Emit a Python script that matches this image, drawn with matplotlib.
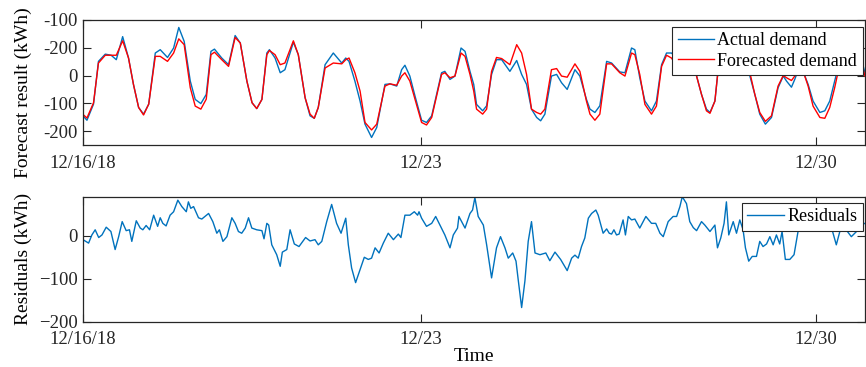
import matplotlib
matplotlib.use('Agg')
import matplotlib.pyplot as plt
import numpy as np

# hours since start
hours = [0, 1.7, 4.5, 6.6, 9.5, 12, 14.2, 16.9, 19.4, 21.5, 23.7, 25.8, 28, 30.8, 32.9, 36,
         38.6, 40.8, 43.1, 45.7, 47.8, 50.2, 52.5, 54.5, 56, 59.1, 62, 64.8, 67, 69.8, 72, 74,
         76.2, 78.3, 79.4, 81.8, 84, 86, 89.6, 91.7, 94.6, 96.7, 98.5, 100.2, 103.1, 106.6,
         110.2, 111.9, 113.3, 115.8, 118, 120.1, 122.9, 125.1, 128.6, 130.7, 133.6, 135.7,
         137.1, 139.2, 141.4, 144.2, 146.3, 148.5, 150.6, 152.7, 154.1, 156.3, 158.4, 161,
         162.7, 164.8, 166.4, 167.6, 170.2, 171.9, 174, 176.1, 178.3, 181.8, 184.7, 186.8,
         188.9, 191, 193.2, 194.9, 196.7, 199.5, 201.7, 203.8, 206.2, 209.5, 211.6, 214.4,
         215.9, 218, 220.1, 223, 225.1, 228.6, 230.8, 233.6, 235, 237.1, 239.3, 242.1, 244.2,
         246.4, 248.5, 250.6, 253.5, 255.5, 257.5, 259.5, 261.3, 263.4, 265.5, 267, 269.1,
         270.2, 272, 275, 278, 280.5, 284, 286.1, 288.2, 290.6, 293.2, 296, 298.2, 299.6,
         301.7, 303.1, 305.5, 308.8, 310.9, 313.8, 315.9, 318, 320.1, 322.5, 325, 328, 330.5,
         333]
actual = [-145, -161, -103, 51, 77, 73, 57, 140, 63, -32, -115, -139, -103, 81, 93, 65,
          99, 173, 123, -20, -86, -101, -68, 87, 95, 63, 39, 144, 117, -20, -98, -119,
          -86, 81, 93, 63, 10, 21, 120, 75, -80, -145, -154, -115, 39, 81,
          45, 63, 51, -20, -92, -175, -223, -187, -32, -30, -38, 21,
          37, -2, -74, -161, -169, -145, -68, 10, 15, -14, -2, 99,
          87, 15, -32, -104, -127, -109, 4, 57, 57, 15, 54, 4,
          -32, -121, -151, -163, -139, -2, 4, -26, -50, 21, -2, -86,
          -121, -133, -109, 51, 45, 13, 10, 99, 93, -8, -92, -127, -92,
          39, 81, 81, 57, 90, 120, 60, -2, -68, -121, -133, -92,
          -2, 60, 70, 50, 90, -2, -68, -139, -175, -151, -44, -2, -20,
          -42, -14, 40, -32, -92, -133, -127, -92, -20, 60, 75, 60, 90,
          10]
forecast = [-140, -153, -98, 45, 73, 73, 73, 125, 63, -32, -115, -142, -103, 69, 69, 51,
            81, 132, 111, -44, -110, -121, -85, 75, 84, 57, 33, 137, 117, -20, -98, -119,
            -86, 75, 90, 75, 39, 45, 125, 75, -80, -139, -154, -115, 27, 45,
            42, 57, 63, 10, -56, -169, -196, -175, -38, -30, -35, -2,
            10, -20, -86, -169, -178, -151, -74, 4, 10, -8, -2, 81,
            69, 4, -56, -121, -139, -121, 15, 65, 61, 39, 111, 81,
            4, -121, -133, -139, -121, 21, 25, -2, -6, 42, 15, -92,
            -139, -161, -139, 42, 42, 10, -2, 81, 75, 4, -104, -139, -110,
            33, 73, 63, 27, 70, 100, 50, -2, -68, -127, -136, -92,
            -2, 55, 60, 45, 80, 10, -68, -133, -165, -145, -38, 0, -8,
            -18, -2, 45, -38, -110, -151, -154, -115, -44, 50, 70, 55, 80,
            -2]

res_hours = [0, 2.4, 3.8, 5.2, 6.7, 8.1, 9.9, 11.9, 13.7, 15.2, 16.7, 18.4, 19.8, 20.8, 22.7,
             24.4, 25.5, 26.9, 28.4, 30.1, 31.8, 32.9, 34.0, 35.4, 37.1, 38.6, 40.4, 42.1,
             44.0, 44.9, 45.9, 47.1, 49.2, 50.6, 53.5, 55.3, 57.0, 58.1, 59.6, 61.3, 63.4,
             64.8, 66.2, 67.6, 69.1, 70.5, 71.9, 74.0, 76.2, 77.1, 78.3, 79.1, 80.4, 82.5,
             84.0, 84.9, 86.8, 88.2, 90.0, 92.0, 94.8, 96.7, 98.8, 100.2, 101.7, 103.8, 105.9,
             108.0, 109.9, 111.9, 113.0, 114.4, 116.1, 118.0, 119.8, 121.5, 122.9, 124.4,
             126.1, 127.9, 130.0, 132.2, 134.3, 135.4, 137.1, 139.2, 141.1, 142.5, 143.1,
             144.2, 146.3, 148.5, 150.2, 152.0, 154.1, 156.3, 157.7, 159.5, 160.1, 162.7,
             164.8, 165.9, 166.9, 168.3, 170.5, 171.9, 174.0, 176.1, 177.8, 179.7, 181.1,
             183.0, 184.4, 185.4, 186.8, 188.2, 189.6, 191.0, 192.5, 194.6, 197.1, 198.8,
             201.0, 203.4, 206.2, 208.1, 209.5, 210.9, 212.3, 213.7, 215.2, 216.6, 218.4,
             219.4, 221.5, 223.0, 224.1, 225.1, 226.1, 227.2, 228.3, 230.0, 231.0, 232.2,
             233.6, 235.0, 237.1, 239.7, 242.1, 243.9, 245.7, 247.1, 249.2, 251.3, 252.8,
             254.2, 255.2, 257.0, 258.4, 259.9, 261.3, 263.4, 264.8, 267.0, 269.1, 270.2,
             271.6, 273.0, 274.0, 275.0, 276.9, 278.3, 279.7, 281.1, 282.1, 283.5, 285.0,
             286.8, 288.2, 289.6, 291.1, 292.5, 293.9, 295.3, 296.7, 297.7, 299.1, 301.0,
             302.8, 304.5, 306.0, 308.1, 310.2, 313.0, 315.9, 318.7, 320.8, 322.3, 324.4,
             327.2, 329.4, 331.5, 333.3]
residuals = [-9, -17, 2, 14, -4, 2, 20, 10, -32, -2, 33, 12, 14, -13, 35,
             18, 14, 24, 14, 48, 22, 42, 29, 23, 48, 56, 83, 68,
             56, 79, 64, 68, 42, 39, 52, 33, 6, 14, -13, -2, 42,
             29, 10, 6, 18, 42, 18, 14, 12, -7, 29, 25, -21, -44,
             -71, -38, -32, 14, -19, -25, -4, -12, -9, -21, -13, 33, 73,
             29, 6, 41, -21, -75, -109, -79, -50, -55, -52, -28,
             -40, -17, 6, -9, 4, -4, 48, 48, 56, 48, 56,
             41, 22, 29, 45, 25, 2, -28, 2, 18, 45, 18,
             52, 60, 89, 45, 25, -21, -98, -28, -2, -28, -52,
             -40, -59, -105, -167, -105, -13, 33, -40, -44, -40, -58,
             -38, -55, -81, -52, -45, -52, -25, -5, 41, 52, 60,
             48, 6, 16, 6, 4, 14, 2, 4, 37, 2, 45,
             37, 39, 18, 45, 29, 29, 6, -2, 33, 45, 45,
             68, 91, 75, 33, 19, 12, 33, 25, 10, 25, -28,
             -5, 29, 79, 2, 33, 6, 37, 14, -28, -59, -48,
             -48, -13, -25, -19, -2, -21, 2, -19, 10, -55, -55,
             -44, 10, 20, 35, 30, 25, 30, 20, -21, 10, 18,
             -2, 10, 25, 30]

tick_pos = [0, 144, 312]
tick_lab = ['12/16/18', '12/23', '12/30']
top_yticks = [200, 100, 0, -100, -200]
top_ylabels = ['-100', '-200', '0', '-100', '-200']

plt.rcParams['font.family'] = 'Liberation Serif'
plt.rcParams['font.size'] = 13.5

blue = '#0072BD'
red = '#FF0000'

fig = plt.figure(figsize=(8.66, 3.67), dpi=100)
ax1 = fig.add_axes([0.0958, 0.605, 0.903, 0.3406])
ax2 = fig.add_axes([0.0958, 0.1234, 0.903, 0.3406])

ax1.plot(hours, actual, color=blue, lw=1.0, label='Actual demand')
ax1.plot(hours, forecast, color=red, lw=1.0, label='Forecasted demand')
ax1.set_ylim(-250, 200)
ax1.set_yticks(top_yticks)
ax1.set_yticklabels(top_ylabels)
ax1.set_ylabel('Forecast result (kWh)', fontsize=14)
ax1.yaxis.set_label_coords(-0.065, 0.42)

ax2.plot(res_hours, residuals, color=blue, lw=1.0, label='Residuals')
ax2.set_ylim(-200, 91)
ax2.set_yticks([0, -100, -200])
ax2.set_ylabel('Residuals (kWh)', fontsize=14)
ax2.yaxis.set_label_coords(-0.065, 0.5)
ax2.set_xlabel('Time', labelpad=0, fontsize=14)

for ax in (ax1, ax2):
    ax.set_xlim(0, 333)
    ax.set_xticks(tick_pos)
    ax.set_xticklabels(tick_lab)
    ax.tick_params(direction='in', length=6, width=0.8, top=True, right=True,
                   labelsize=13.5, colors='#262626', labelcolor='#262626')
    ax.tick_params(axis='x', pad=7)
    ax.tick_params(axis='y', pad=4)
    for s in ax.spines.values():
        s.set_linewidth(0.9)
        s.set_color('#262626')

leg_kw = dict(loc='upper right', borderaxespad=0, fancybox=False, framealpha=1,
              edgecolor='#262626', handlelength=2.0, handletextpad=0.2,
              labelspacing=0.2, borderpad=0.3, fontsize=13)
l1 = ax1.legend(bbox_to_anchor=(0.997, 0.946), **leg_kw)
l2 = ax2.legend(bbox_to_anchor=(0.997, 0.952), **leg_kw)
for l in (l1, l2):
    l.get_frame().set_linewidth(0.8)

fig.savefig('out.png', dpi=100)
